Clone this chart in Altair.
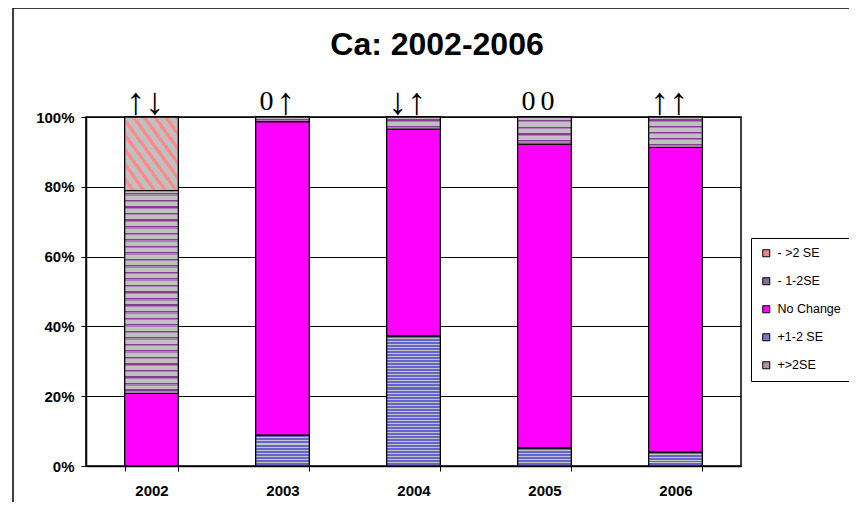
import altair as alt
import pandas as pd

# ---------------- data ----------------
years = ["2002", "2003", "2004", "2005", "2006"]
# legend order (top to bottom)
series = ["- >2 SE", "- 1-2SE", "No Change", "+1-2 SE", "+>2SE"]
# percentage of each category per year
minus_gt2 = [21.1, 0.0, 0.0, 0.0, 0.0]
minus_1_2 = [58.1, 1.3, 3.5, 7.8, 8.7]
no_change = [20.8, 89.9, 59.3, 87.1, 87.4]
plus_1_2 = [0.0, 8.8, 37.2, 5.1, 3.9]
plus_gt2 = [0.0, 0.0, 0.0, 0.0, 0.0]
# trend symbols above each bar
left_marks = ["↑", "0", "↓", "0", "↑"]
right_marks = ["↓", "↑", "↑", "0", "↑"]
title_text = "Ca: 2002-2006"

# ---------------- build table ----------------
values_by_series = {
    "- >2 SE": minus_gt2,
    "- 1-2SE": minus_1_2,
    "No Change": no_change,
    "+1-2 SE": plus_1_2,
    "+>2SE": plus_gt2,
}
rank = {s: len(series) - 1 - i for i, s in enumerate(series)}
rows = []
for s in series:
    for y, v in zip(years, values_by_series[s]):
        if v > 0:
            rows.append({"year": y, "series": s, "value": v / 100.0, "rank": rank[s]})
df = pd.DataFrame(rows)

ann_rows = []
for y, l, r in zip(years, left_marks, right_marks):
    ann_rows.append({"year": y, "side": "L", "sym": l})
    ann_rows.append({"year": y, "side": "R", "sym": r})
ann = pd.DataFrame(ann_rows)

PLOT_W, PLOT_H = 655, 349

legend_colors = ["#e8888a", "#8a6a9a", "#ff00ff", "#7a7acc", "#b09898"]

patterns = {
    "- >2 SE": dict(colors=["#c0c0c0", "#ff8a8a"], weights=[0.62, 0.38], period=13, diag=True),
    "- 1-2SE": dict(colors=["#c0c0c0", "#8a3a9a", "#a880b4", "#c0c0c0"], weights=[2.6, 1.2, 1.4, 1.3], period=6.5, diag=False),
    "+1-2 SE": dict(colors=["#6464cc", "#c4c4cc"], weights=[2.0, 1.0], period=3, diag=False),
    "+>2SE": dict(colors=["#c0c0c0", "#803030"], weights=[0.7, 0.3], period=8, diag=True),
}


def stripe_gradient(colors, weights, n, diag):
    total = float(sum(weights))
    stops = []
    for i in range(n):
        acc = i / n
        for c, w in zip(colors, weights):
            end = acc + w / total / n
            stops.append(alt.GradientStop(offset=round(min(acc, 1.0), 5), color=c))
            stops.append(alt.GradientStop(offset=round(min(end, 1.0), 5), color=c))
            acc = end
    if diag:
        return alt.LinearGradient(gradient="linear", stops=stops, x1=0, y1=1, x2=1, y2=0)
    return alt.LinearGradient(gradient="linear", stops=stops, x1=0, y1=0, x2=0, y2=1)


def stacked(chart):
    return chart.transform_stack(
        stack="value", groupby=["year"], as_=["y0", "y1"], sort=[alt.SortField("rank")]
    )


x_scale = alt.Scale(domain=years, paddingInner=0.59, paddingOuter=0.295)
y_scale = alt.Scale(domain=[0, 1], nice=False)
x_axis = alt.Axis(title=None, labelAngle=0, grid=False, tickBand="extent",
                  tickSize=5, labelPadding=12)
y_axis = alt.Axis(title=None, format=".0%", values=[0, 0.2, 0.4, 0.6, 0.8, 1.0],
                  tickSize=5, labelPadding=7, grid=True)


def xenc():
    return alt.X("year:N", scale=x_scale, sort=years, axis=x_axis)


def yenc():
    return alt.Y("y0:Q", scale=y_scale, axis=y_axis)


base = stacked(alt.Chart(df)).mark_bar(stroke="black", strokeWidth=1.3).encode(
    x=xenc(),
    y=yenc(),
    y2="y1:Q",
    color=alt.Color("series:N", scale=alt.Scale(domain=series, range=legend_colors),
                    legend=alt.Legend(title=None, orient="none", legendX=665, legendY=121,
                                      values=series)),
)

overlays = []
for r in rows:
    s = r["series"]
    if s not in patterns:
        continue
    p = patterns[s]
    h = r["value"] * PLOT_H
    if p["diag"]:
        n = max(1, round((54 + h) / p["period"]))
    else:
        n = max(1, round(h / p["period"]))
    grad = stripe_gradient(p["colors"], p["weights"], n, p["diag"])
    layer = stacked(alt.Chart(df)).transform_filter(
        (alt.datum.year == r["year"]) & (alt.datum.series == s)
    ).mark_bar(fill=grad, stroke="black", strokeWidth=1.3).encode(
        x=xenc(), y=yenc(), y2="y1:Q",
    )
    overlays.append(layer)

# outer chart frame (decorative)
frame = alt.Chart(pd.DataFrame({"a": [0]})).mark_rect(
    fillOpacity=0, stroke="black", strokeWidth=1.5
).encode(
    x=alt.value(-73), x2=alt.value(900), y=alt.value(-109), y2=alt.value(500)
)

title_layer = alt.Chart(pd.DataFrame({"t": [title_text]})).mark_text(
    font="Liberation Sans", fontWeight="bold", fontSize=32, align="center",
    baseline="alphabetic", color="black"
).encode(x=alt.value(351), y=alt.value(-62), text="t:N")

ann_layers = []
for side, dx in (("L", -16), ("R", 3)):
    for is_zero in (True, False):
        cond = (alt.datum.side == side) & ((alt.datum.sym == "0") if is_zero else (alt.datum.sym != "0"))
        ann_layers.append(
            alt.Chart(ann).transform_filter(cond).mark_text(
                font="Liberation Serif", fontSize=28 if is_zero else 38,
                align="center", baseline="alphabetic", dx=dx, color="black"
            ).encode(x=xenc(), y=alt.value(-7 if is_zero else -3), text="sym:N")
        )

chart = alt.layer(base, *overlays, frame, title_layer, *ann_layers).properties(
    width=PLOT_W, height=PLOT_H,
    padding={"left": 78, "top": 109, "right": 108, "bottom": 36},
    autosize=alt.AutoSizeParams(type="none"),
    background="white",
).configure_view(
    stroke="black", strokeWidth=1.5
).configure_axis(
    labelFont="Liberation Sans", labelFontWeight="bold", labelFontSize=15, labelColor="black",
    domainColor="black", domainWidth=1.5, tickColor="black", tickWidth=1,
    gridColor="black", gridWidth=1, gridOpacity=1,
).configure_legend(
    strokeColor="black", strokeWidth=1, fillColor="white", padding=9,
    symbolType="square", symbolSize=49, symbolStrokeColor="black", symbolStrokeWidth=1,
    labelFont="Liberation Sans", labelFontSize=12.5, labelColor="black",
    rowPadding=15, labelOffset=5, symbolOffset=0,
)

chart.save("out.html", embed_options={"renderer": "svg", "actions": False})
